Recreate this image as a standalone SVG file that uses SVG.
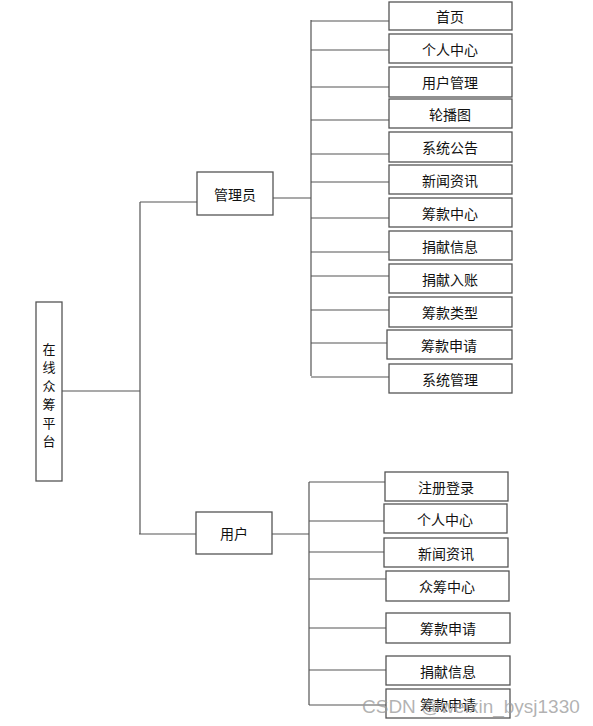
<svg xmlns="http://www.w3.org/2000/svg" width="593" height="726" viewBox="0 0 593 726">
<style>
.b{fill:#fff;stroke:#555;stroke-width:1.3}
.t{font-family:"Noto Sans CJK SC","Liberation Sans",sans-serif;font-size:14px;fill:#111;text-anchor:middle;dominant-baseline:central}
.v{font-size:13px}
.c{fill:none;stroke:#555;stroke-width:1.2}
.w{font-family:"Liberation Sans",sans-serif;font-size:19px;fill:#999;fill-opacity:0.75}
</style>
<rect width="593" height="726" fill="#fff"/>
<g id="connectors">
<path class="c" d="M62,391H140M140,202V534M140,202H197M139,534H196"/>
<path class="c" d="M273,198H311M311,20V376"/>
<path class="c" d="M311,21H389M311,50H389M311,87H389M311,120H389M311,154H389M311,182H389M311,218H389M311,252H389M311,276H389M311,310H389M311,343H387M311,377H389"/>
<path class="c" d="M272,534H309M309,482V705"/>
<path class="c" d="M309,482H385M309,521H384M309,552H384M309,579H386M309,628H386M309,670H386M309,705H386"/>
</g>
<g id="root"><rect class="b" x="36" y="302" width="26" height="179"/>
<text class="t v" x="49" y="348">在</text><text class="t v" x="49" y="366.5">线</text><text class="t v" x="49" y="385">众</text><text class="t v" x="49" y="403.5">筹</text><text class="t v" x="49" y="422">平</text><text class="t v" x="49" y="440.5">台</text></g>
<g id="admin"><rect class="b" x="197" y="172" width="76" height="43"/><text class="t" x="235" y="194">管理员</text></g>
<g id="user"><rect class="b" x="196" y="512" width="76" height="42"/><text class="t" x="234" y="533">用户</text></g>
<g id="a1"><rect class="b" x="389" y="2" width="123" height="28"/><text class="t" x="450" y="16">首页</text></g>
<g id="a2"><rect class="b" x="389" y="34" width="123" height="29"/><text class="t" x="450" y="48.5">个人中心</text></g>
<g id="a3"><rect class="b" x="389" y="67" width="123" height="30"/><text class="t" x="450" y="82">用户管理</text></g>
<g id="a4"><rect class="b" x="389" y="99" width="123" height="29"/><text class="t" x="450" y="113.5">轮播图</text></g>
<g id="a5"><rect class="b" x="389" y="132" width="123" height="30"/><text class="t" x="450" y="147">系统公告</text></g>
<g id="a6"><rect class="b" x="389" y="165" width="123" height="29"/><text class="t" x="450" y="179.5">新闻资讯</text></g>
<g id="a7"><rect class="b" x="389" y="198" width="123" height="29"/><text class="t" x="450" y="212.5">筹款中心</text></g>
<g id="a8"><rect class="b" x="389" y="231" width="123" height="29"/><text class="t" x="450" y="245.5">捐献信息</text></g>
<g id="a9"><rect class="b" x="389" y="264" width="123" height="29"/><text class="t" x="450" y="278.5">捐献入账</text></g>
<g id="a10"><rect class="b" x="389" y="297" width="123" height="30"/><text class="t" x="450" y="312">筹款类型</text></g>
<g id="a11"><rect class="b" x="387" y="330" width="125" height="29"/><text class="t" x="449" y="344.5">筹款申请</text></g>
<g id="a12"><rect class="b" x="389" y="364" width="123" height="29"/><text class="t" x="450" y="378.5">系统管理</text></g>
<g id="u1"><rect class="b" x="385" y="472" width="123" height="29"/><text class="t" x="446" y="486.5">注册登录</text></g>
<g id="u2"><rect class="b" x="384" y="504" width="123" height="29"/><text class="t" x="445" y="518.5">个人中心</text></g>
<g id="u3"><rect class="b" x="384" y="538" width="124" height="29"/><text class="t" x="446" y="552.5">新闻资讯</text></g>
<g id="u4"><rect class="b" x="386" y="571" width="123" height="30"/><text class="t" x="447" y="586">众筹中心</text></g>
<g id="u5"><rect class="b" x="386" y="613" width="124" height="30"/><text class="t" x="448" y="628">筹款申请</text></g>
<g id="u6"><rect class="b" x="386" y="656" width="124" height="29"/><text class="t" x="448" y="670.5">捐献信息</text></g>
<g id="u7"><rect class="b" x="386" y="689" width="124" height="29"/><text class="t" x="448" y="703.5">筹款申请</text></g>
<text class="w" x="362" y="713">CSDN @weixin_bysj1330</text>
</svg>
